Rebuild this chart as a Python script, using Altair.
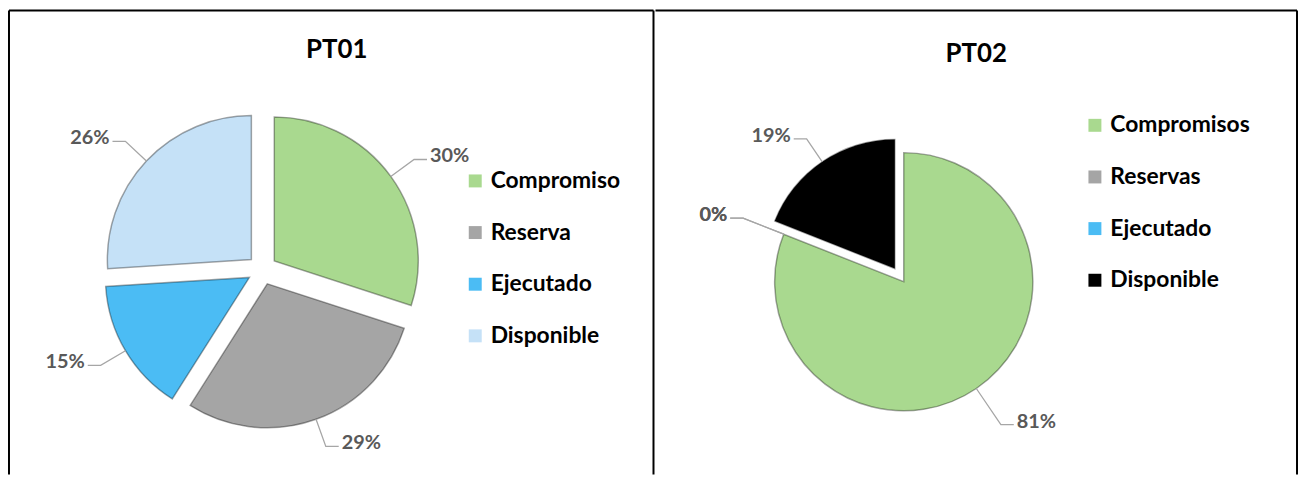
import altair as alt
import pandas as pd

# ---- data ----
titles = ["PT01", "PT02"]
categories_pt01 = ["Compromiso", "Reserva", "Ejecutado", "Disponible"]
values_pt01 = [30, 29, 15, 26]
categories_pt02 = ["Compromisos", "Reservas", "Ejecutado", "Disponible"]
values_pt02 = [81, 0, 0, 19]

# ---- style ----
colors_pt01 = ["#a9d98f", "#a5a5a5", "#4bbcf4", "#c5e1f7"]
colors_pt02 = ["#a9d98f", "#a5a5a5", "#4bbcf4", "#000000"]
FONT = "Lato"
H = 467
TAU = 6.283185307179586


def panel(title, cats, vals, colors, W, cx, cy, r, explode_expr,
          title_x, title_y, leg_x, leg_y, left_border):
    df = pd.DataFrame({"cat": cats, "value": vals, "idx": list(range(len(cats)))})
    label_r = r + 44
    xscale = alt.Scale(domain=[0, W], nice=False, zero=False)
    yscale = alt.Scale(domain=[0, H], nice=False, zero=False, reverse=True)

    base = (
        alt.Chart(df)
        .transform_window(cum="sum(value)", sort=[alt.SortField("idx")], frame=[None, 0])
        .transform_joinaggregate(total="sum(value)")
        .transform_calculate(
            f0="(datum.cum - datum.value) / datum.total",
            f1="datum.cum / datum.total",
            mid="2 * PI * (datum.cum - datum.value / 2) / datum.total",
            ex=explode_expr,
        )
        .transform_calculate(sx="sin(datum.mid)", sy="-cos(datum.mid)")
        .transform_calculate(
            side="datum.sx >= 0 ? 1 : -1",
            px=f"{cx} + datum.ex * datum.sx",
            py=f"{cy} + datum.ex * datum.sy",
            ed_x=f"{cx} + (datum.ex + {r}) * datum.sx",
            ed_y=f"{cy} + (datum.ex + {r}) * datum.sy",
            el_x=f"{cx} + {label_r} * datum.sx",
            el_y=f"{cy} + {label_r} * datum.sy",
            pct="format(datum.value / datum.total * 100, '.0f') + '%'",
        )
    )

    X = lambda f: alt.X(f, type="quantitative", scale=xscale, axis=None)
    Y = lambda f: alt.Y(f, type="quantitative", scale=yscale, axis=None)

    arcs = (
        base.transform_filter("datum.value > 0")
        .mark_arc(radius=r, stroke="#000000", strokeOpacity=0.35, strokeWidth=1.5)
        .encode(
            x=X("px"),
            y=Y("py"),
            theta=alt.Theta("f0:Q", scale=alt.Scale(domain=[0, 1], range=[0, TAU])),
            theta2="f1:Q",
            color=alt.Color(
                "cat:N",
                scale=alt.Scale(domain=cats, range=colors),
                sort=cats,
                legend=alt.Legend(
                    title=None, orient="none", legendX=leg_x, legendY=leg_y,
                    symbolType="square", symbolSize=170, symbolStrokeWidth=0,
                    labelFont=FONT, labelFontSize=23, labelFontWeight="bold",
                    labelColor="#000000", labelOffset=4, rowPadding=28, padding=0,
                    labelLimit=300,
                ),
            ),
        )
    )

    leaders = (
        base.transform_calculate(k="[0, 1, 2]")
        .transform_flatten(["k"])
        .transform_calculate(
            lx="datum.k == 0 ? datum.ed_x : (datum.k == 1 ? datum.el_x : datum.el_x + datum.side * 13)",
            ly="datum.k == 0 ? datum.ed_y : datum.el_y",
        )
        .mark_line(color="#a6a6a6", strokeWidth=1.3)
        .encode(x=X("lx"), y=Y("ly"), detail="cat:N", order="k:Q")
    )

    lab_base = base.transform_calculate(tx="datum.el_x + datum.side * 16", ty="datum.el_y - 3")
    lab_r = lab_base.transform_filter("datum.side > 0").mark_text(
        align="left", baseline="middle", font=FONT, fontSize=20, fontWeight="bold", color="#595959"
    ).encode(x=X("tx"), y=Y("ty"), text="pct:N")
    lab_l = lab_base.transform_filter("datum.side < 0").mark_text(
        align="right", baseline="middle", font=FONT, fontSize=20, fontWeight="bold", color="#595959"
    ).encode(x=X("tx"), y=Y("ty"), text="pct:N")

    ttl = alt.Chart(pd.DataFrame({"t": [title]})).mark_text(
        align="center", baseline="middle", font=FONT, fontSize=26, fontWeight="bold", color="#000000"
    ).encode(x=alt.value(title_x), y=alt.value(title_y), text="t:N")

    bdf = pd.DataFrame({"b": [0]})
    borders = [
        alt.Chart(bdf).mark_rule(color="#000000", strokeWidth=2).encode(
            x=alt.value(0), x2=alt.value(W), y=alt.value(0)),
        alt.Chart(bdf).mark_rule(color="#000000", strokeWidth=2).encode(
            x=alt.value(W), y=alt.value(0), y2=alt.value(H)),
    ]
    if left_border:
        borders.append(alt.Chart(bdf).mark_rule(color="#000000", strokeWidth=2).encode(
            x=alt.value(0), y=alt.value(0), y2=alt.value(H)))

    return alt.layer(arcs, leaders, lab_r, lab_l, ttl, *borders).properties(width=W, height=H)


p1 = panel(titles[0], categories_pt01, values_pt01, colors_pt01, 649, 255, 261, 145, "15",
           330, 40, 458, 160, True)
p2 = panel(titles[1], categories_pt02, values_pt02, colors_pt02, 646, 250, 273, 130,
           "datum.cat === 'Disponible' ? 16 : 0", 323, 44, 431, 104, False)

chart = (
    alt.hconcat(p1, p2, spacing=0)
    .resolve_scale(color="independent", x="independent", y="independent")
    .properties(padding=0)
    .configure_view(stroke=None)
)

chart.save("out.html", embed_options={"renderer": "svg", "actions": False})
